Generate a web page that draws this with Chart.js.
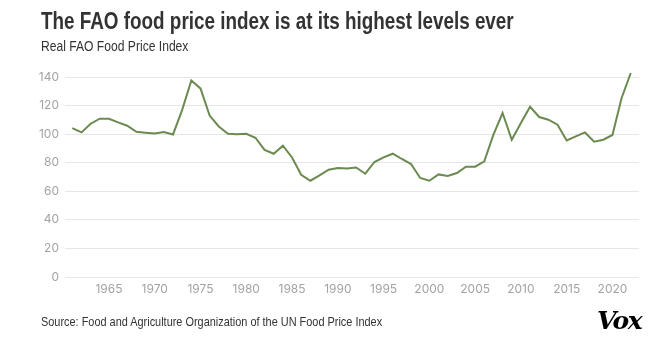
<!DOCTYPE html>
<html>
<head>
<meta charset="utf-8">
<script src="https://cdn.jsdelivr.net/npm/chart.js@4"></script>
<style>
    html, body { margin: 0; padding: 0; background: #fff; }
    #wrap { position: relative; width: 658px; height: 351px; overflow: hidden; }
    #chart { position: absolute; left: 0; top: 0; }
    .txt { position: absolute; left: 41px; white-space: nowrap; font-family: "Liberation Sans", sans-serif; transform-origin: left center; }
    #title { top: 8px; font-size: 23px; font-weight: bold; color: #333; transform: scaleX(0.82); }
    #subtitle { top: 38px; font-size: 14px; color: #333; transform: scaleX(0.865); }
    #source { top: 314px; font-size: 13px; color: #333; transform: scaleX(0.84); }
    #logo { position: absolute; left: 597px; top: 306px; font-family: "DejaVu Serif", serif; font-weight: bold; font-style: italic; font-size: 25px; color: #000; letter-spacing: -1.5px; }
</style>
</head>
<body>
<div id="wrap">
    <canvas id="chart" width="658" height="351"></canvas>
    <div class="txt" id="title">The FAO food price index is at its highest levels ever</div>
    <div class="txt" id="subtitle">Real FAO Food Price Index</div>
    <div class="txt" id="source">Source: Food and Agriculture Organization of the UN Food Price Index</div>
    <div id="logo">Vox</div>
</div>

<script>
// ========================= //
//  Données (lues à l'œil)   //
// ========================= //
const years = [
    1961, 1962, 1963, 1964, 1965, 1966, 1967, 1968, 1969, 1970,
    1971, 1972, 1973, 1974, 1975, 1976, 1977, 1978, 1979, 1980,
    1981, 1982, 1983, 1984, 1985, 1986, 1987, 1988, 1989, 1990,
    1991, 1992, 1993, 1994, 1995, 1996, 1997, 1998, 1999, 2000,
    2001, 2002, 2003, 2004, 2005, 2006, 2007, 2008, 2009, 2010,
    2011, 2012, 2013, 2014, 2015, 2016, 2017, 2018, 2019, 2020,
    2021, 2022
];

const realIndex = [
    104.2, 101.2, 107.3, 110.8, 110.8, 108.2, 105.9, 101.6, 101.0, 100.5,
    101.5, 99.8, 117.0, 137.6, 132.0, 113.0, 105.4, 100.3, 100.0, 100.2,
    97.5, 89.0, 86.3, 91.9, 83.7, 71.6, 67.4, 71.1, 75.1, 76.3,
    76.0, 76.7, 72.3, 80.5, 83.7, 86.3, 82.6, 79.1, 69.3, 67.4,
    71.8, 70.7, 72.8, 77.2, 77.2, 80.9, 99.6, 114.8, 96.1, 107.8,
    119.2, 112.0, 110.1, 106.6, 95.6, 98.4, 101.2, 94.7, 96.1, 99.4,
    125.3, 142.8
];

const xTicks = [1965, 1970, 1975, 1980, 1985, 1990, 1995, 2000, 2005, 2010, 2015, 2020];
const yTicks = [0, 20, 40, 60, 80, 100, 120, 140];

const LINE_COLOR = "#6b8a50";
const GRID_COLOR = "#e6e6e6";
const TICK_COLOR = "#a3a3a3";
const TICK_FONT = { family: "Inter, 'Noto Sans', sans-serif", size: 12 };

// ========================= //
//  Graphique                //
// ========================= //
new Chart(document.getElementById("chart").getContext("2d"), {
    type: "line",
    data: {
        datasets: [{
            data: years.map((y, i) => ({ x: y, y: realIndex[i] })),
            borderColor: LINE_COLOR,
            borderWidth: 2,
            pointRadius: 0,
            tension: 0,
            clip: false
        }]
    },
    options: {
        responsive: false,
        animation: false,
        layout: { padding: { top: 77, right: 19, bottom: 0, left: 0 } },
        plugins: {
            legend: { display: false },
            tooltip: { enabled: false }
        },
        scales: {
            x: {
                type: "linear",
                min: 1960.2,
                max: 2022.9,
                afterFit: s => { s.height = 74; },
                afterBuildTicks: s => { s.ticks = xTicks.map(v => ({ value: v })); },
                grid: { display: false, drawTicks: false },
                border: { display: false },
                ticks: {
                    color: TICK_COLOR,
                    font: TICK_FONT,
                    padding: 5,
                    maxRotation: 0,
                    callback: v => String(v)
                }
            },
            y: {
                min: 0,
                max: 140,
                afterFit: s => { s.width = 65; },
                afterBuildTicks: s => { s.ticks = yTicks.map(v => ({ value: v })); },
                grid: { color: GRID_COLOR, lineWidth: 1, drawTicks: false },
                border: { display: false },
                ticks: {
                    color: TICK_COLOR,
                    font: TICK_FONT,
                    padding: 6
                }
            }
        }
    }
});
</script>
</body>
</html>
